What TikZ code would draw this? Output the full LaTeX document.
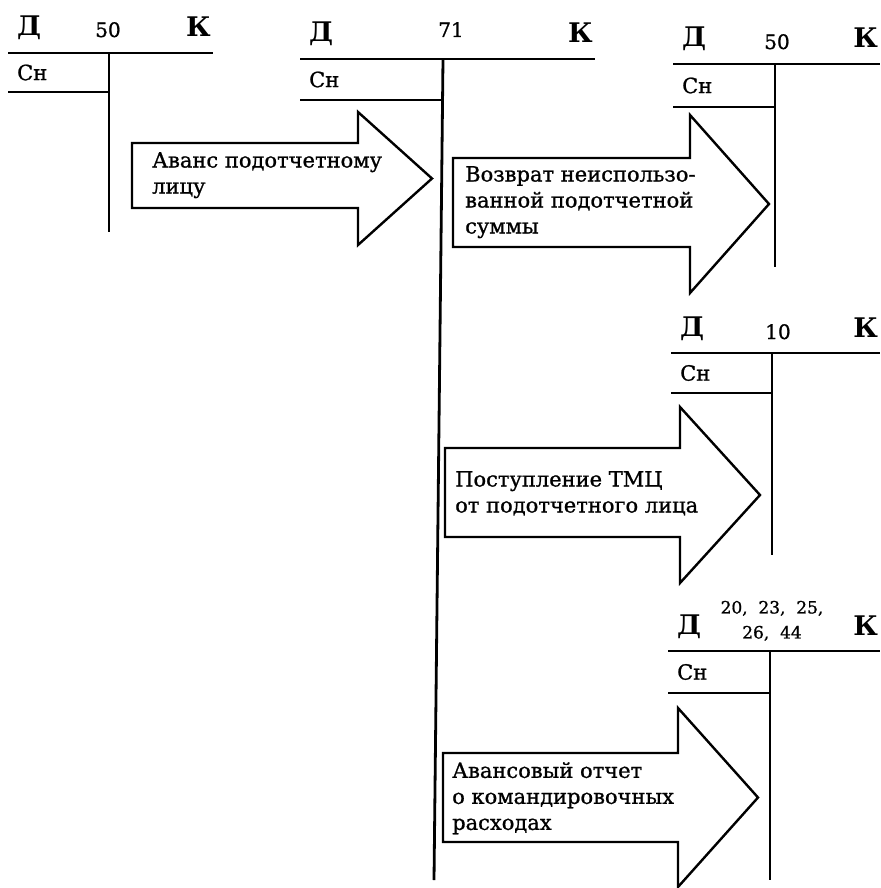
\documentclass[tikz,border=0pt]{standalone}
\usepackage{fontspec}
\setmainfont{DejaVu Serif}
\newfontfamily\heavyfont[FakeBold=1]{DejaVu Serif}
\usetikzlibrary{calc}

\tikzset{
  acc/.style={line width=2.8pt},
  blk/.style={line width=2.4pt, line join=miter},
  side/.style={font=\bfseries\fontsize{27}{29}\selectfont, inner sep=0pt},
  num/.style={font=\heavyfont\fontsize{20}{22}\selectfont, inner sep=0pt, anchor=base},
  sn/.style={font=\heavyfont\fontsize{21}{23}\selectfont, inner sep=0pt, anchor=west},
  txt/.style={font=\heavyfont\fontsize{21}{26}\selectfont, inner sep=0pt, anchor=north west, align=left},
}

% name, left, middle, right, top line, Cn line, bottom x, bottom y
\newcommand{\taccount}[8]{%
  \coordinate (#1tl) at (#2,#5);
  \coordinate (#1tm) at (#3,#5);
  \coordinate (#1tr) at (#4,#5);
  \coordinate (#1sl) at (#2,#6);
  \coordinate (#1sm) at (#3,#6);
  \coordinate (#1b) at (#7,#8);
  \draw[acc] (#1tl) -- (#1tr);
  \draw[acc] (#1tm) -- (#1b);
  \draw[acc] (#1sl) -- (#1sm);
  \node[sn] (#1sn) at ($(#1tl)!0.5!(#1sl)+(9,0)$) {Сн};
  \node[side, anchor=base west] (#1d) at ($(#1tl)+(9,-17)$) {Д};
  \node[side, anchor=base east] (#1k) at ($(#1tr)+(-2,-16)$) {К};
}

% name, left, top, bottom, shaft end, head top, head bottom, tip
\newcommand{\blockarrow}[8]{%
  \coordinate (#1tip) at (#8,{(#6+#7)/2});
  \draw[blk] (#2,#3) -- (#5,#3) -- (#5,#6) -- (#1tip) -- (#5,#7) -- (#5,#4) -- (#2,#4) -- cycle;
}

\begin{document}
\begin{tikzpicture}[x=1pt,y=-1pt]
  \useasboundingbox (0,0) rectangle (880,888);

  % ACCOUNTS
  \taccount{ca}{8}{109}{213}{53}{92}{109}{232}
  \node[num] (can) at (108,37) {50};
  \taccount{ad}{300}{443}{595}{59}{100}{434}{880}
  \node[num] (adn) at (451,37) {71};
  \taccount{cb}{673}{775}{880}{64}{107}{775}{267}
  \node[num] (cbn) at (777,49) {50};
  \taccount{mt}{671}{772}{880}{353}{393}{772}{555}
  \node[num] (mtn) at (778,339) {10};
  \taccount{ex}{668}{770}{880}{651}{693}{770}{880}
  \node[num, anchor=south, align=center, font=\heavyfont\fontsize{17}{25}\selectfont] (exn) at (772,641) {20,\ \ 23,\ \ 25,\\26,\ \ 44};

  % ARROWS
  \blockarrow{aa}{132}{143}{208}{358}{112}{245}{432}
  \node[txt] (aat) at (152,152) {Аванс подотчетному\\лицу};
  \blockarrow{ab}{453}{158}{247}{690}{115}{293}{769}
  \node[txt] (abt) at (465,166) {Возврат неиспользо-\\ванной подотчетной\\суммы};
  \blockarrow{ac}{445}{448}{537}{680}{407}{583}{760}
  \node[txt] (act) at (455,471) {Поступление ТМЦ\\от подотчетного лица};
  \blockarrow{ae}{443}{753}{842}{678}{708}{887}{758}
  \node[txt] (aet) at (452,762) {Авансовый отчет\\о командировочных\\расходах};
\end{tikzpicture}
\end{document}
